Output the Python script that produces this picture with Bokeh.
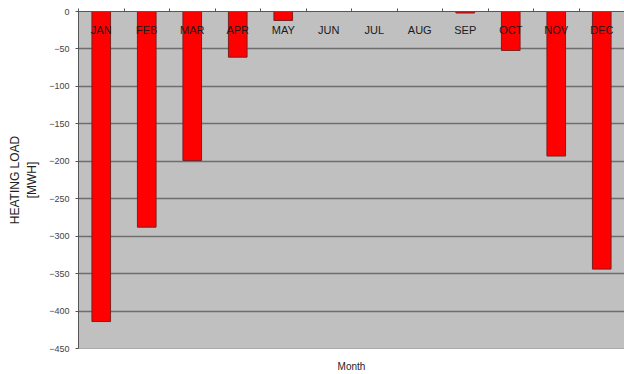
from bokeh.plotting import figure
from bokeh.models import Range1d, FixedTicker, ColumnDataSource, LinearAxis
from bokeh.core.properties import value
from bokeh.embed import file_html
from bokeh.resources import INLINE

months = ["JAN", "FEB", "MAR", "APR", "MAY", "JUN", "JUL", "AUG", "SEP", "OCT", "NOV", "DEC"]
heating_load = [-414, -288, -199, -61, -12, 0, 0, 0, -2, -52, -193, -344]
y_ticks = [0, -50, -100, -150, -200, -250, -300, -350, -400, -450]

xpos = [i + 0.5 for i in range(len(months))]
src = ColumnDataSource(dict(x=xpos, month=months, load=heating_load,
                            label_y=[-25] * len(months)))

p = figure(x_range=Range1d(0, len(months)), y_range=Range1d(-450, 0), width=624, height=374,
           output_backend="svg", toolbar_location=None, x_axis_location=None,
           min_border_left=78, min_border_right=0, min_border_top=11, min_border_bottom=26)
p.background_fill_color = "#C0C0C0"
p.border_fill_color = "white"
p.outline_line_color = None

p.vbar(x="x", top=0, bottom="load", width=0.41, source=src,
       fill_color="#FF0000", line_color="#7A2020", line_width=1)

p.text(x="x", y="label_y", text="month", source=src,
       text_align="center", text_baseline="middle",
       text_font=value("Liberation Sans"), text_font_size="11px", text_color="#1A1A1A")

# grid
p.xgrid.grid_line_color = None
p.ygrid.ticker = FixedTicker(ticks=y_ticks)
p.ygrid.grid_line_color = "#6E6E6E"
p.ygrid.grid_line_width = 1.5

# left axis
p.yaxis.ticker = FixedTicker(ticks=y_ticks)
p.yaxis.axis_line_color = "#555555"
p.yaxis.major_tick_line_color = "#555555"
p.yaxis.major_tick_out = 3
p.yaxis.major_tick_in = 0
p.yaxis.minor_tick_line_color = None
p.yaxis.major_label_text_font = "Liberation Sans"
p.yaxis.major_label_text_font_size = "9px"
p.yaxis.major_label_text_color = "#444444"
p.yaxis.major_label_standoff = 6
p.yaxis.axis_label = "HEATING LOAD\n[MWH]"
p.yaxis.axis_label_text_font = "Liberation Sans"
p.yaxis.axis_label_text_font_size = "12px"
p.yaxis.axis_label_text_align = "center"
p.yaxis.axis_label_text_font_style = "normal"
p.yaxis.axis_label_text_color = "#222222"
p.yaxis.axis_label_standoff = 7

# bottom axis: only the "Month" title
bottom = LinearAxis(ticker=FixedTicker(ticks=[]))
bottom.axis_line_color = "#AAAAAA"
bottom.major_tick_line_color = None
bottom.minor_tick_line_color = None
bottom.axis_label = "Month"
bottom.axis_label_text_font = "Liberation Sans"
bottom.axis_label_text_font_size = "10px"
bottom.axis_label_text_font_style = "normal"
bottom.axis_label_text_color = "#222222"
bottom.axis_label_standoff = 12
p.add_layout(bottom, "below")

# top axis with ticks between categories
top_ticks = list(range(len(months) + 1))
top = LinearAxis(ticker=FixedTicker(ticks=top_ticks))
top.major_label_overrides = {t: "" for t in top_ticks}
top.major_label_standoff = 0
top.axis_line_color = "#555555"
top.major_tick_line_color = "#555555"
top.major_tick_out = 3
top.major_tick_in = 0
top.minor_tick_line_color = None
p.add_layout(top, "above")

open("out.html", "w").write(file_html(p, INLINE))
